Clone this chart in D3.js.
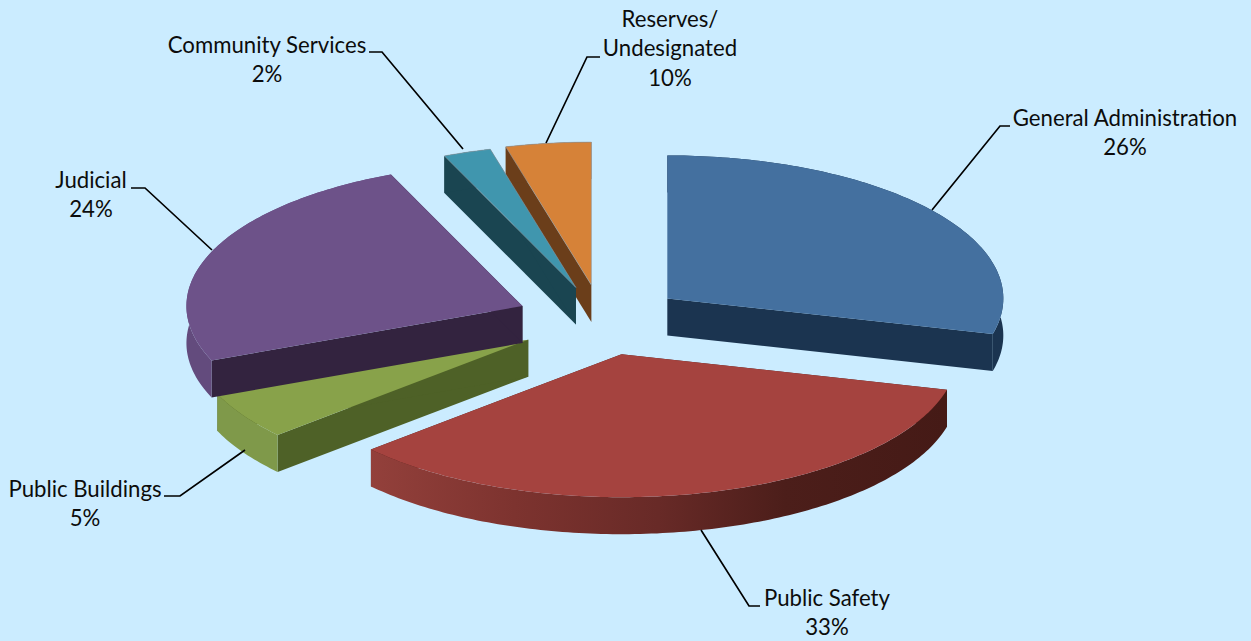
<!DOCTYPE html>
<html>
<head>
<meta charset="utf-8">
<script src="https://cdn.jsdelivr.net/npm/d3@7"></script>
<style>
  html, body { margin: 0; padding: 0; background: #cbecff; }
  svg { display: block; }
  text { font-family: Lato, "Open Sans", sans-serif; font-size: 22.2px; fill: #0c0c0c; }
</style>
</head>
<body>
<div id="chart"></div>
<script>
const categories = ['General Administration', 'Public Safety', 'Public Buildings', 'Judicial', 'Community Services', 'Reserves/\nUndesignated']
// what the data labels print
const labelPercents = [26, 33, 5, 24, 2, 10]
// how big each slice is actually drawn in the picture (does not follow the labels)
const drawnShares = [29, 34.4, 5.4, 24.8, 2.3, 4.1]
const topColors = ['#44709f', '#a5433f', '#88a24a', '#6d5289', '#4096ae', '#d68238']
const cutColors = ['#1b3450', '#4a1d19', '#4e6127', '#33233f', '#1a4551', '#6b3e1a']
const rimColors = ['#1b3450', 'url(#redRim)', '#7f994a', '#634b7d', '#1a4551', '#6b3e1a']
const explodeBy = [0.246, 0.246, 0.259, 0.256, 0.24, 0.246]
const drawOrder = [5, 4, 2, 3, 0, 1]

const width = 1251, height = 641
const cx = 602, cy = 320, depth = 37

// leader lines and label anchors, in page pixels
const leaders = [
  [[932, 210], [1000, 126], [1010, 126]],
  [[701, 530], [749, 606], [760, 606]],
  [[245, 450], [180, 496], [164, 496]],
  [[212, 250], [145, 188], [131, 188]],
  [[463, 149], [382, 52], [369, 52]],
  [[546, 143], [587, 57], [600, 57]]
]
const labelAt = [[1125, 126], [827, 606], [85, 497], [91, 188], [267, 53], [670, 27]]

const svg = d3.select('#chart').append('svg')
  .attr('width', width)
  .attr('height', height)

const grad = svg.append('defs').append('linearGradient')
  .attr('id', 'redRim')
  .attr('gradientUnits', 'userSpaceOnUse')
  .attr('x1', 370).attr('x2', 946).attr('y1', 0).attr('y2', 0)
grad.selectAll('stop')
  .data([[0, '#93403b'], [0.25, '#7d332f'], [0.5, '#682a27'], [0.72, '#4c1e1a'], [1, '#451a16']])
  .enter().append('stop')
  .attr('offset', d => d[0])
  .attr('stop-color', d => d[1])

// unit disk -> tilted ellipse
const xScale = d3.scaleLinear().domain([-1, 1]).range([-336, 336])
const yScale = d3.scaleLinear().domain([-1, 1]).range([-143, 143])

const pie = d3.pie().sort(null).value(d => d)
const slices = pie(drawnShares)

const line = d3.line()

function apex(s) {
  const mid = (s.startAngle + s.endAngle) / 2
  const e = explodeBy[s.index]
  return [cx + xScale(e * Math.sin(mid)), cy + yScale(-e * Math.cos(mid))]
}
function rimPoints(s, from, to) {
  const a = apex(s)
  const n = Math.max(2, Math.ceil((to - from) * 60))
  return d3.range(n + 1).map(i => {
    const t = from + (to - from) * i / n
    return [a[0] + xScale(Math.sin(t)), a[1] + yScale(-Math.cos(t))]
  })
}
const down = p => [p[0], p[1] + depth]

const g = svg.append('g')
const sliceG = g.selectAll('.slice')
  .data(drawOrder)
  .enter().append('g')
  .attr('class', 'slice')

sliceG.each(function(i) {
  const s = slices[i], el = d3.select(this), a = apex(s)
  const rim = rimPoints(s, s.startAngle, s.endAngle)
  const first = rim[0], last = rim[rim.length - 1]
  // radial cut faces, back one first
  ;[[a, first], [a, last]].forEach(e => {
    el.append('path')
      .attr('d', line([e[0], e[1], down(e[1]), down(e[0])]) + 'Z')
      .attr('fill', cutColors[i])
  })
  // outer wall
  el.append('path')
    .attr('d', line(rim.concat(rim.map(down).reverse())) + 'Z')
    .attr('fill', rimColors[i])
  // top face
  el.append('path')
    .attr('d', line([a].concat(rim)) + 'Z')
    .attr('fill', topColors[i])
    .attr('stroke', i >= 4 ? '#8f9aa3' : 'none')
    .attr('stroke-width', i >= 4 ? 0.6 : 0)
})

svg.append('g').selectAll('path')
  .data(leaders)
  .enter().append('path')
  .attr('d', d => line(d))
  .attr('fill', 'none')
  .attr('stroke', '#000')
  .attr('stroke-width', 1.7)

const labels = svg.append('g').selectAll('text')
  .data(categories)
  .enter().append('text')
  .attr('text-anchor', 'middle')
labels.each(function(name, i) {
  const lines = name.split('\n').concat(labelPercents[i] + '%')
  d3.select(this).selectAll('tspan')
    .data(lines)
    .enter().append('tspan')
    .attr('x', labelAt[i][0])
    .attr('y', (d, k) => labelAt[i][1] + k * 29.4)
    .text(d => d)
})
</script>
</body>
</html>
